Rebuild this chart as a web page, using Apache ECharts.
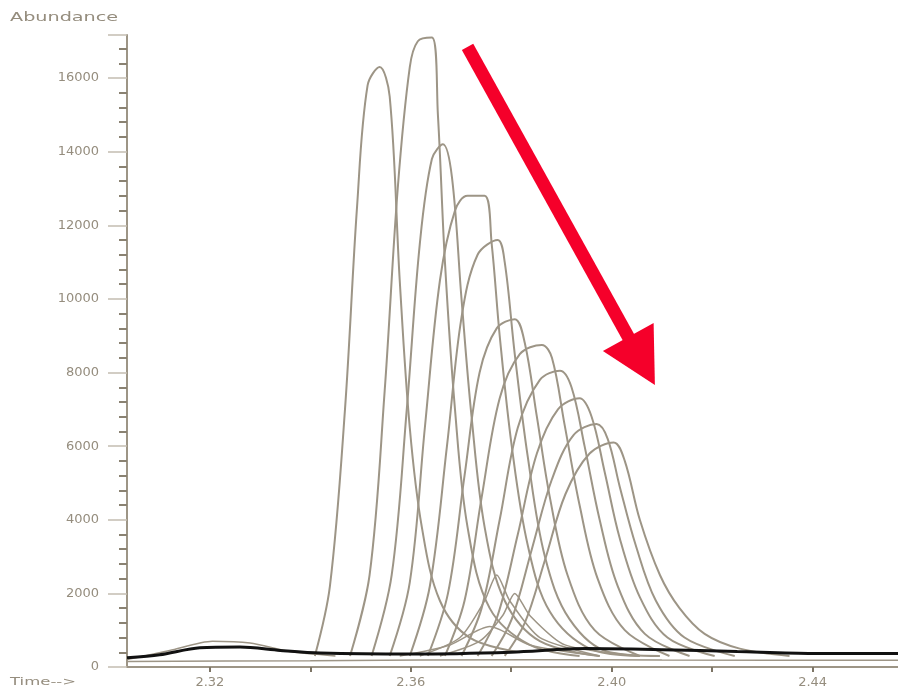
<!DOCTYPE html>
<html>
<head>
<meta charset="utf-8">
<script src="https://cdn.jsdelivr.net/npm/echarts@6/dist/echarts.min.js"></script>
<style>
  html, body { margin: 0; padding: 0; background: #fff; }
  #chart { width: 898px; height: 691px; }
</style>
</head>
<body>
<div id="chart"></div>
<script>
  // 刻度
  var xTickValues = [2.32, 2.34, 2.36, 2.38, 2.40, 2.42, 2.44]
  var xLabelValues = [2.32, 2.36, 2.40, 2.44]

  // 各个色谱峰 [时间, 丰度]
  var peak1 = [[2.3409, 300], [2.3439, 2200], [2.3469, 7000], [2.3493, 12500], [2.3514, 15800], [2.3538, 16300], [2.3558, 15500], [2.3578, 10500], [2.3598, 6500], [2.3622, 3800], [2.3658, 1800], [2.3717, 800], [2.3817, 400]]
  var peak2 = [[2.3479, 300], [2.3518, 2500], [2.3548, 7500], [2.3574, 13000], [2.3598, 16300], [2.3614, 17000], [2.3642, 17100], [2.3654, 15000], [2.3668, 11000], [2.3688, 7000], [2.3713, 3800], [2.3757, 1600], [2.3837, 600], [2.3936, 300]]
  var peak3 = [[2.3522, 300], [2.3562, 2500], [2.3592, 7000], [2.3618, 11500], [2.3642, 13800], [2.3664, 14200], [2.3682, 13300], [2.3701, 10000], [2.3721, 6800], [2.3747, 3800], [2.3787, 1800], [2.3857, 700], [2.3976, 300]]
  var peak4 = [[2.3558, 300], [2.3598, 2300], [2.3628, 6500], [2.3658, 10500], [2.3688, 12400], [2.3713, 12800], [2.3747, 12800], [2.3761, 11500], [2.3777, 9000], [2.3801, 6000], [2.3833, 3300], [2.3877, 1500], [2.3956, 500], [2.4056, 300]]
  var peak5 = [[2.3598, 300], [2.3638, 2200], [2.3672, 6000], [2.3701, 9500], [2.3733, 11200], [2.3773, 11600], [2.3787, 11000], [2.3807, 8500], [2.3833, 5700], [2.3867, 3000], [2.3916, 1300], [2.3996, 400], [2.4096, 300]]
  var peak6 = [[2.3634, 300], [2.3674, 2000], [2.3707, 5200], [2.3737, 8000], [2.3771, 9200], [2.3807, 9450], [2.3827, 8800], [2.3851, 6800], [2.3877, 4600], [2.3912, 2500], [2.3966, 1000], [2.4056, 300]]
  var peak7 = [[2.3668, 300], [2.3707, 1800], [2.3741, 4600], [2.3777, 7300], [2.3817, 8500], [2.3861, 8750], [2.3881, 8400], [2.3906, 6600], [2.3936, 4400], [2.3972, 2400], [2.4026, 1000], [2.4115, 300]]
  var peak8 = [[2.3701, 300], [2.3741, 1600], [2.3777, 4000], [2.3813, 6500], [2.3857, 7800], [2.3897, 8050], [2.3920, 7600], [2.3946, 6000], [2.3976, 4000], [2.4012, 2200], [2.4066, 900], [2.4155, 300]]
  var peak9 = [[2.3733, 300], [2.3773, 1400], [2.3813, 3600], [2.3851, 5800], [2.3893, 7000], [2.3936, 7300], [2.3960, 6800], [2.3986, 5300], [2.4016, 3500], [2.4056, 1900], [2.4111, 800], [2.4205, 300]]
  var peak10 = [[2.3761, 300], [2.3801, 1300], [2.3841, 3200], [2.3881, 5100], [2.3924, 6300], [2.3970, 6600], [2.3992, 6200], [2.4016, 4900], [2.4048, 3300], [2.4088, 1800], [2.4145, 800], [2.4245, 300]]
  var peak11 = [[2.3787, 300], [2.3827, 1200], [2.3867, 2900], [2.3908, 4700], [2.3956, 5800], [2.4004, 6100], [2.4026, 5600], [2.4056, 4000], [2.4096, 2500], [2.4135, 1600], [2.4185, 900], [2.4255, 500], [2.4354, 300]]
  // 小峰
  var small1 = [[2.3618, 300], [2.3698, 800], [2.3747, 1800], [2.3771, 2500], [2.3797, 1800], [2.3857, 800], [2.3976, 300]]
  var small2 = [[2.3658, 300], [2.3737, 700], [2.3783, 1400], [2.3807, 2000], [2.3837, 1400], [2.3907, 600], [2.4056, 300]]
  var small3 = [[2.3578, 300], [2.3678, 600], [2.3757, 1100], [2.3837, 600], [2.3976, 300]]
  // 基线
  var hump = [[2.3035, 200], [2.312, 450], [2.3205, 700], [2.328, 650], [2.336, 420], [2.345, 300]]
  var lowBase = [[2.3035, 150], [2.34, 170], [2.3837, 200], [2.41, 190], [2.457, 180]]
  var baseline = [[2.3035, 250], [2.310, 330], [2.318, 520], [2.326, 540], [2.334, 450], [2.342, 380], [2.36, 350], [2.38, 400], [2.395, 500], [2.41, 470], [2.425, 420], [2.44, 370], [2.457, 370]]

  // 箭头 起点/终点（数据坐标）
  var arrowFrom = [2.3713, 16850]
  var arrowTo = [2.4086, 7660]

  var peaks = [peak1, peak2, peak3, peak4, peak5, peak6, peak7, peak8, peak9, peak10, peak11]
  var smalls = [small1, small2, small3, hump, lowBase]

  var grey = '#9d9586'
  var series = []
  peaks.forEach(function (d) {
    series.push({ type: 'line', data: d, smooth: 0.35, symbol: 'none', lineStyle: { color: grey, width: 2 } })
  })
  smalls.forEach(function (d) {
    series.push({ type: 'line', data: d, smooth: 0.25, symbol: 'none', lineStyle: { color: grey, width: 1.5 } })
  })
  series.push({ type: 'line', data: baseline, smooth: 0.3, symbol: 'none', z: 5, lineStyle: { color: '#111', width: 3 } })

  var labelStyle = { color: '#958d7e', fontSize: 13, fontFamily: 'DejaVu Sans' }
  var myChart = echarts.init(document.getElementById('chart'))
  myChart.setOption({
    animation: false,
    backgroundColor: '#fff',
    grid: { left: 127, right: 0, top: 35, bottom: 24 },
    xAxis: {
      type: 'value',
      min: 2.3035,
      max: 2.457,
      axisLine: { lineStyle: { color: grey, width: 2 } },
      axisTick: { customValues: xTickValues, length: 5, lineStyle: { color: '#7d7566', width: 2 } },
      axisLabel: Object.assign({ customValues: xLabelValues, margin: 9, formatter: function (v) { return v.toFixed(2) } }, labelStyle),
      splitLine: { show: false }
    },
    yAxis: {
      type: 'value',
      min: 0,
      max: 17170,
      interval: 2000,
      axisLine: { show: true, lineStyle: { color: grey, width: 2 } },
      axisTick: { show: true, length: 19, lineStyle: { color: '#c4bdb1', width: 1.5 } },
      minorTick: { show: true, splitNumber: 5, length: 8, lineStyle: { color: '#8a8272', width: 2 } },
      axisLabel: Object.assign({ margin: 28, showMaxLabel: false, formatter: function (v) { return String(v) } }, labelStyle),
      splitLine: { show: false }
    },
    graphic: [
      { id: 'yname', type: 'text', left: 10, top: 12, scaleX: 1.6, style: { text: 'Abundance', fill: '#958d7e', fontSize: 12, fontFamily: 'DejaVu Sans' } },
      { id: 'xname', type: 'text', left: 10, top: 677, scaleX: 1.5, style: { text: 'Time-->', fill: '#958d7e', fontSize: 11, fontFamily: 'DejaVu Sans' } }
    ],
    series: series
  })

  // 红色箭头
  var p0 = myChart.convertToPixel('grid', arrowFrom)
  var p1 = myChart.convertToPixel('grid', arrowTo)
  var dx = p1[0] - p0[0]
  var dy = p1[1] - p0[1]
  var len = Math.sqrt(dx * dx + dy * dy)
  var ux = dx / len
  var uy = dy / len
  var headLen = 55
  var headHalf = 29
  var bx = p1[0] - ux * headLen
  var by = p1[1] - uy * headLen
  myChart.setOption({
    graphic: [
      { id: 'shaft', type: 'line', shape: { x1: p0[0], y1: p0[1], x2: bx + ux * 4, y2: by + uy * 4 }, style: { stroke: '#f5002a', lineWidth: 13 }, z: 100 },
      { id: 'head', type: 'polygon', shape: { points: [[p1[0], p1[1]], [bx + uy * headHalf, by - ux * headHalf], [bx - uy * headHalf, by + ux * headHalf]] }, style: { fill: '#f5002a' }, z: 100 }
    ]
  })
</script>
</body>
</html>
